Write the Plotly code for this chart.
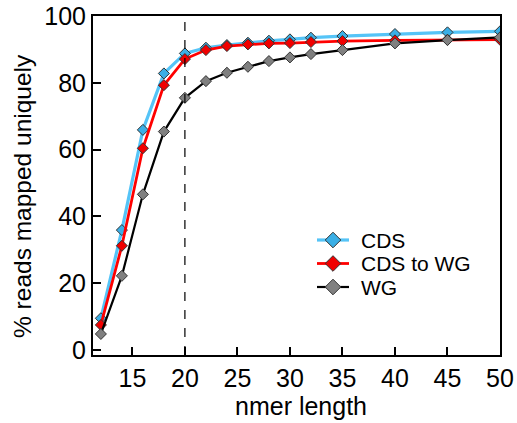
import plotly.graph_objects as go

nmer = [12, 14, 16, 18, 20, 22, 24, 26, 28, 30, 32, 35, 40, 45, 50]
cds = [9.5, 35.9, 65.9, 82.8, 88.8, 90.5, 91.3, 92.0, 92.6, 93.0, 93.5, 94.0, 94.6, 95.1, 95.4]
cds_to_wg = [7.5, 31.2, 60.4, 79.3, 87.1, 89.8, 91.0, 91.5, 91.8, 91.9, 92.2, 92.5, 92.7, 92.9, 92.9]
wg = [4.8, 22.2, 46.6, 65.4, 75.5, 80.5, 83.0, 84.8, 86.5, 87.6, 88.6, 89.8, 91.8, 92.8, 93.6]

series_names = ["CDS", "CDS to WG", "WG"]
line_colors = ["#55C4F7", "#FF0000", "#000000"]
line_widths = [3.2, 2.8, 2.2]
marker_colors = ["#3AAFE6", "#F00000", "#808080"]

font = "Liberation Sans, Arial, sans-serif"

W, H = 517, 423
L, R, T, B = 93, 500, 16, 355  # plot area in page pixels


def px(x):
    return (x - L) / (R - L)


def py(y):
    return (B - y) / (B - T)


fig = go.Figure()
for name, vals, lc, lw, mc in zip(series_names, [cds, cds_to_wg, wg], line_colors, line_widths, marker_colors):
    fig.add_trace(go.Scatter(
        x=nmer, y=vals, name=name, mode="lines+markers", showlegend=False,
        line=dict(color=lc, width=lw),
        marker=dict(symbol="diamond", size=8.5, color=mc,
                    line=dict(color="#333333", width=1)),
    ))

# legend (drawn on an auxiliary axis spanning the plot area in pixels)
legend_rows = [240, 263.5, 287]
for name, row, lc, lw, mc in zip(series_names, legend_rows, line_colors, line_widths, marker_colors):
    fig.add_trace(go.Scatter(
        x=[317, 349], y=[row, row], mode="lines", xaxis="x2", yaxis="y2",
        showlegend=False, hoverinfo="skip", line=dict(color=lc, width=lw)))
    fig.add_trace(go.Scatter(
        x=[333], y=[row], mode="markers", xaxis="x2", yaxis="y2",
        showlegend=False, hoverinfo="skip",
        marker=dict(symbol="diamond", size=12, color=mc,
                    line=dict(color="#333333", width=1))))
    fig.add_annotation(x=px(359), y=py(row), xref="paper", yref="paper", text=name,
                       showarrow=False, xanchor="left", yanchor="middle",
                       font=dict(size=21, family=font, color="black"))

# axis titles
fig.add_annotation(x=px(301), y=py(406), xref="paper", yref="paper", text="nmer length",
                   showarrow=False, xanchor="center", yanchor="middle",
                   font=dict(size=25, family=font, color="black"))
fig.add_annotation(x=px(23), y=py(196), xref="paper", yref="paper",
                   text="% reads mapped uniquely",
                   showarrow=False, xanchor="center", yanchor="middle", textangle=-90,
                   font=dict(size=24.5, family=font, color="black"))

fig.add_shape(type="line", x0=20, x1=20, y0=0, y1=1, xref="x", yref="y domain",
              line=dict(color="black", width=1.2, dash="dash"))

fig.update_layout(
    width=W, height=H,
    margin=dict(l=L, r=W - R, t=T, b=H - B),
    plot_bgcolor="white", paper_bgcolor="white",
    font=dict(family=font, color="black", size=20),
    showlegend=False,
    xaxis=dict(range=[11.25, 50], tickvals=[15, 20, 25, 30, 35, 40, 45, 50],
               ticks="inside", ticklen=8, tickwidth=1.8, tickcolor="black",
               showline=True, linecolor="black", linewidth=2, mirror=True,
               showgrid=False, zeroline=False, automargin=False,
               ticklabeloverflow="allow", tickfont=dict(size=25)),
    yaxis=dict(range=[-1.5, 100], tickvals=[0, 20, 40, 60, 80, 100],
               ticks="inside", ticklen=8, tickwidth=1.8, tickcolor="black",
               showline=True, linecolor="black", linewidth=2, mirror=True,
               showgrid=False, zeroline=False, automargin=False,
               ticklabeloverflow="allow", tickfont=dict(size=25)),
    xaxis2=dict(range=[L, R], overlaying="x", visible=False, fixedrange=True),
    yaxis2=dict(range=[B, T], overlaying="y", visible=False, fixedrange=True),
)

fig.write_html("out.html", config={"displayModeBar": False},
               post_script="document.body.style.margin='0';")
